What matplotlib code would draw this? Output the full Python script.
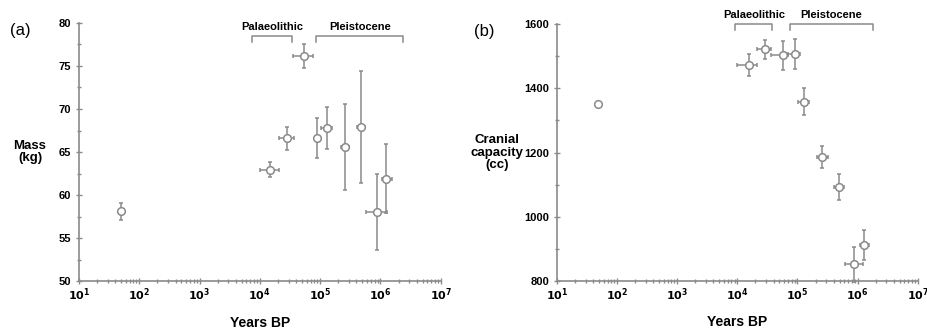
import numpy as np
import matplotlib
matplotlib.use("Agg")
import matplotlib.pyplot as plt
from matplotlib.ticker import LogLocator, FixedLocator, NullFormatter

plt.rcParams['font.family'] = ['Liberation Sans', 'DejaVu Sans']

# panel (a): body mass
years_a = [50, 15000, 28000, 55000, 89000, 128000, 258000, 470000, 890000, 1230000]
years_a_lo = [50, 10000, 21000, 35000, 89000, 102000, 219000, 403000, 575000, 1050000]
years_a_hi = [50, 21000, 37000, 75000, 89000, 158000, 302000, 550000, 1260000, 1530000]
mass = [58.1, 62.95, 66.6, 76.2, 66.6, 67.8, 65.6, 67.9, 58.0, 61.9]
mass_err = [1.0, 0.9, 1.35, 1.4, 2.3, 2.45, 5.0, 6.5, 4.4, 4.0]

# panel (b): cranial capacity
years_b = [49, 15500, 29000, 57000, 91000, 130000, 257000, 485000, 880000, 1290000]
years_b_lo = [49, 9800, 21000, 36000, 69000, 102000, 209000, 398000, 620000, 1100000]
years_b_hi = [49, 21400, 36000, 69000, 110000, 158000, 324000, 590000, 1220000, 1550000]
cranial = [1350, 1472, 1521, 1503, 1507, 1358, 1186, 1092, 852, 912]
cranial_err = [0, 35, 30, 45, 46, 42, 33, 40, 55, 47]

# period brackets (years)
palaeo_a = (7400, 34000)
pleisto_a = (85000, 2400000)
palaeo_b = (9300, 38000)
pleisto_b = (75000, 1800000)

grey = '#8a8a8a'


def panel(ax, x, xlo, xhi, y, yerr, ylim, yticks, yminor, ylabel, tag,
          palaeo, pleisto, ylab_x, tag_x, yb):
    x = np.array(x, float)
    xerr = [x - np.array(xlo), np.array(xhi) - x]
    ax.errorbar(x, y, yerr=yerr, xerr=xerr, fmt='o', ms=5.5, mfc='white',
                mec=grey, mew=1.1, ecolor=grey, elinewidth=1.1, capsize=1.2,
                capthick=1.5, clip_on=False, zorder=3)
    ax.set_xscale('log')
    ax.set_xlim(10, 1e7)
    ax.set_ylim(*ylim)
    ax.xaxis.set_minor_locator(LogLocator(base=10, subs=np.arange(2, 10), numticks=20))
    ax.xaxis.set_minor_formatter(NullFormatter())
    ax.set_xticks([10 ** k for k in range(1, 8)])
    ax.set_xticklabels([r'$\mathbf{10^{%d}}$' % k for k in range(1, 8)])
    ax.set_yticks(yticks)
    ax.yaxis.set_minor_locator(FixedLocator(yminor))
    for s in ['top', 'right']:
        ax.spines[s].set_visible(False)
    for s in ['left', 'bottom']:
        ax.spines[s].set_color(grey)
        ax.spines[s].set_linewidth(1.2)
    ax.tick_params(which='both', colors=grey, labelcolor='black',
                   direction='inout', labelsize=8)
    ax.tick_params(which='major', length=4, width=1)
    ax.tick_params(which='minor', length=2.5, width=1)
    ax.tick_params(axis='x', pad=1.5)
    for lab in ax.get_yticklabels():
        lab.set_fontweight('bold')
    ax.set_xlabel('Years BP', fontsize=10, fontweight='bold')
    ax.xaxis.set_label_coords(0.5, -0.16)
    ax.xaxis.label.set_va('center')
    ax.text(ylab_x, 0.5, ylabel, transform=ax.transAxes, ha='center',
            va='center', fontsize=9.5, fontweight='bold', linespacing=1.05)
    ax.text(tag_x, 1.0, tag, transform=ax.transAxes, fontsize=12,
            va='top', ha='left')

    # period brackets above the data
    trans = ax.get_xaxis_transform()
    for (x0, x1), name in [(palaeo, 'Palaeolithic'), (pleisto, 'Pleistocene')]:
        ax.plot([x0, x0, x1, x1], [yb - 0.025, yb, yb, yb - 0.025],
                color=grey, lw=1.1, transform=trans, clip_on=False)
        xm = np.sqrt(x0 * x1)
        ax.text(xm, yb + 0.015, name, transform=trans, ha='center',
                va='bottom', fontsize=8, fontweight='bold')


fig = plt.figure(figsize=(9.28, 3.32), dpi=100)
ax1 = fig.add_axes([0.085, 0.153, 0.39, 0.778])
ax2 = fig.add_axes([0.600, 0.153, 0.389, 0.775])

panel(ax1, years_a, years_a_lo, years_a_hi, mass, mass_err, (50, 80),
      [50, 55, 60, 65, 70, 75, 80], [52.5, 57.5, 62.5, 67.5, 72.5, 77.5],
      'Mass\n(kg)', '(a)', palaeo_a, pleisto_a, -0.135, -0.19, 0.95)
panel(ax2, years_b, years_b_lo, years_b_hi, cranial, cranial_err, (800, 1600),
      [800, 1000, 1200, 1400, 1600], [900, 1100, 1300, 1500],
      'Cranial\ncapacity\n(cc)', '(b)', palaeo_b, pleisto_b, -0.165, -0.23, 1.0)

fig.savefig('out.png', dpi=100)
